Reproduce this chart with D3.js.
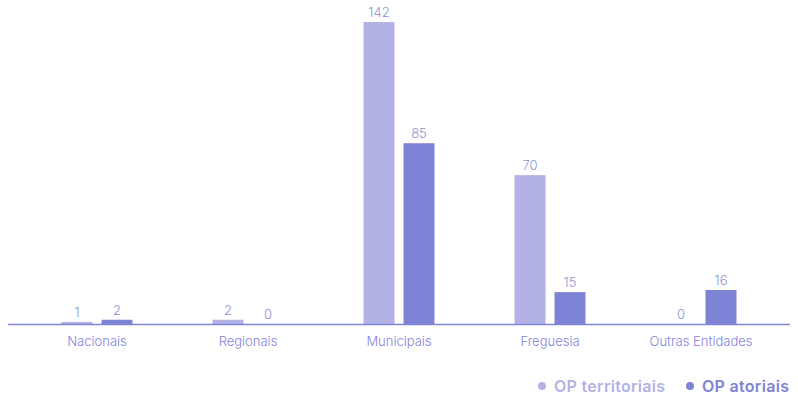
<!DOCTYPE html>
<html>
<head>
<meta charset="utf-8">
<script src="https://cdn.jsdelivr.net/npm/d3@7"></script>
<style>
  body { margin: 0; background: #fff; }
  svg text { font-family: Inter, "Noto Sans", sans-serif; }
</style>
</head>
<body>
<div id="chartArea"></div>
<script>
var categories = ["Nacionais", "Regionais", "Municipais", "Freguesia", "Outras Entidades"];
var series = ["OP territoriais", "OP atoriais"];
var territoriais = [1, 2, 142, 70, 0];
var atoriais = [2, 0, 85, 15, 16];

var colors = ["#b3b2e5", "#7f83d6"];
var width = 798, height = 396;

var data = categories.map(function(c, i) {
    return {cat: c, values: [territoriais[i], atoriais[i]]};
});

var svg = d3.select("#chartArea").append("svg")
    .attr("width", width)
    .attr("height", height);

var x0 = d3.scaleBand().domain(categories).range([21.5, 776.5]);
var x1 = d3.scaleBand().domain(series).range([0, 71]).paddingInner(0.225);
var y = d3.scaleLinear().domain([0, 142]).range([324, 22]);

var groups = svg.selectAll("g.cat").data(data).enter().append("g")
    .attr("class", "cat")
    .attr("transform", function(d) { return "translate(" + (x0(d.cat) + x0.bandwidth() / 2 - 35.5) + ",0)"; });

groups.selectAll("rect").data(function(d) { return d.values; }).enter().append("rect")
    .attr("x", function(d, i) { return x1(series[i]); })
    .attr("y", function(d) { return y(d); })
    .attr("width", x1.bandwidth())
    .attr("height", function(d) { return y(0) - y(d); })
    .attr("fill", function(d, i) { return colors[i]; });

groups.selectAll("text.val").data(function(d) { return d.values; }).enter().append("text")
    .attr("class", "val")
    .attr("x", function(d, i) { return x1(series[i]) + x1.bandwidth() / 2; })
    .attr("y", function(d) { return y(d) - 5; })
    .attr("text-anchor", "middle")
    .style("font-size", "13px")
    .style("font-weight", 300)
    .attr("fill", "#8f91d8")
    .text(function(d) { return d; });

// axis line
svg.append("line")
    .attr("x1", 8).attr("x2", 790)
    .attr("y1", y(0) + 0.5).attr("y2", y(0) + 0.5)
    .attr("stroke", "#8185dc")
    .attr("stroke-width", 1.5);

var xAxis = svg.append("g")
    .attr("transform", "translate(0," + (y(0)) + ")")
    .call(d3.axisBottom(x0).tickSize(0).tickPadding(13));
xAxis.select(".domain").remove();
xAxis.selectAll("text")
    .style("font-size", "13px")
    .style("font-weight", 300)
    .style("font-family", "Inter, 'Noto Sans', sans-serif")
    .attr("fill", "#8185dc");

// legend
var legendX = [542, 690];
var legend = svg.selectAll("g.legend").data(series).enter().append("g")
    .attr("class", "legend")
    .attr("transform", function(d, i) { return "translate(" + legendX[i] + ",386)"; });
legend.append("circle")
    .attr("r", 4)
    .attr("fill", function(d, i) { return colors[i]; });
legend.append("text")
    .attr("x", 12)
    .attr("dy", "0.35em")
    .style("font-size", "16px")
    .style("font-weight", 600)
    .style("letter-spacing", "0.3px")
    .attr("fill", function(d, i) { return colors[i]; })
    .text(function(d) { return d; });
</script>
</body>
</html>
